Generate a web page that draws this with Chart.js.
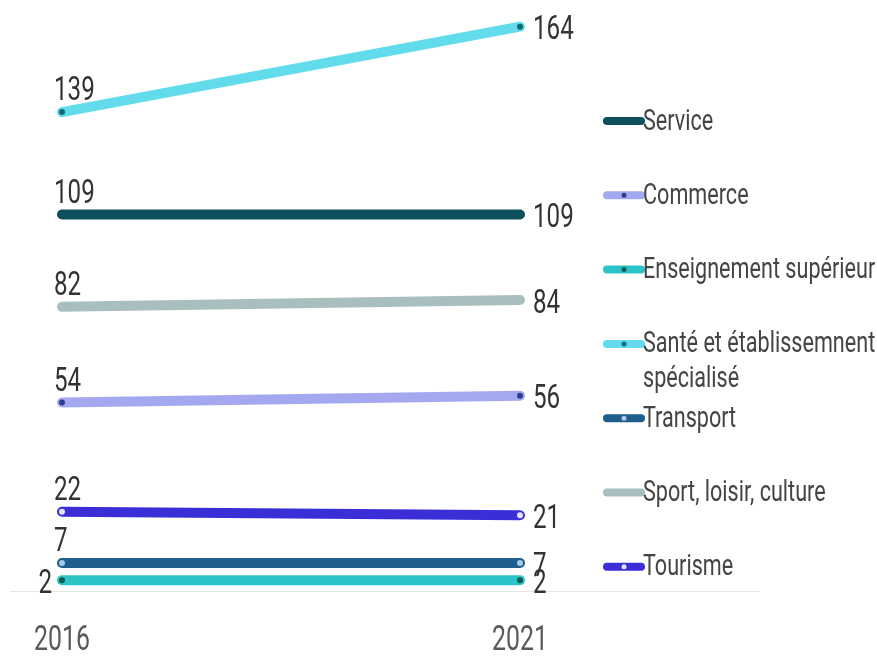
<!DOCTYPE html>
<html>
<head>
<meta charset="utf-8">
<script src="https://cdn.jsdelivr.net/npm/chart.js@4/dist/chart.umd.min.js"></script>
<style>
html,body{margin:0;padding:0;background:#fff;}
canvas{display:block;}
</style>
</head>
<body>
<canvas id="c" width="877" height="657"></canvas>
<script>
// ---- data ----
const years = ['2016', '2021'];
const seriesNames = ['Service', 'Commerce', 'Enseignement supérieur', 'Santé et établissemnent spécialisé', 'Transport', 'Sport, loisir, culture', 'Tourisme'];
const service = [109, 109];
const commerce = [54, 56];
const enseignement = [2, 2];
const sante = [139, 164];
const transport = [7, 7];
const sport = [82, 84];
const tourisme = [22, 21];

const lineColors = ['#0d4f5b', '#a4a9ef', '#2cc3c6', '#62dcec', '#1e5d8c', '#a9bebe', '#3a2ed6'];
const pointColors = ['#0d4f5b', '#2c3e91', '#0e5c55', '#106a72', '#a9c7e6', '#a9bebe', '#e2e2ff'];
const seriesValues = [service, commerce, enseignement, sante, transport, sport, tourisme];

const FONT = 'Roboto, "DejaVu Sans", sans-serif';

function drawText(ctx, text, x, y, align, baseline, sx) {
  ctx.save();
  ctx.translate(x, y);
  ctx.scale(sx, 1);
  ctx.textAlign = align;
  ctx.textBaseline = baseline;
  ctx.fillText(text, 0, 0);
  ctx.restore();
}

const datasets = seriesNames.map((name, i) => ({
  label: name,
  data: seriesValues[i],
  borderColor: lineColors[i],
  backgroundColor: lineColors[i],
  borderWidth: 10,
  borderCapStyle: 'round',
  pointRadius: 3,
  pointHoverRadius: 3,
  pointBorderWidth: 0,
  pointBackgroundColor: pointColors[i],
  clip: false,
  tension: 0
}));

const baselinePlugin = {
  id: 'baseline',
  beforeDatasetsDraw(chart) {
    const ctx = chart.ctx;
    const y = Math.round(chart.scales.y.getPixelForValue(0) + 4);
    ctx.save();
    ctx.strokeStyle = '#e6e6e6';
    ctx.lineWidth = 1;
    ctx.beginPath();
    ctx.moveTo(10, y + 0.5);
    ctx.lineTo(760, y + 0.5);
    ctx.stroke();
    ctx.restore();
  }
};

const xTicksPlugin = {
  id: 'xTicks',
  afterDraw(chart) {
    const ctx = chart.ctx;
    const xs = chart.scales.x;
    ctx.save();
    ctx.font = '35px ' + FONT;
    ctx.fillStyle = '#5a5a5a';
    xs.getLabels().forEach((lab, i) => {
      drawText(ctx, lab, xs.getPixelForTick(i), 641, 'center', 'middle', 0.71);
    });
    ctx.restore();
  }
};

const labelsPlugin = {
  id: 'valueLabels',
  afterDatasetsDraw(chart) {
    const ctx = chart.ctx;
    ctx.save();
    ctx.font = '34px ' + FONT;
    ctx.fillStyle = '#333';
    const firstVals = chart.data.datasets.map(d => d.data[0]);
    const minFirst = Math.min(...firstVals);
    chart.data.datasets.forEach((ds, di) => {
      const meta = chart.getDatasetMeta(di);
      meta.data.forEach((pt, idx) => {
        const v = String(ds.data[idx]);
        if (idx === 0) {
          if (ds.data[idx] === minFirst) {
            drawText(ctx, v, pt.x - 10, pt.y + 4, 'right', 'middle', 0.71);
          } else {
            drawText(ctx, v, pt.x - 8, pt.y - 12, 'left', 'alphabetic', 0.71);
          }
        } else {
          drawText(ctx, v, pt.x + 13, pt.y + 4, 'left', 'middle', 0.71);
        }
      });
    });
    ctx.restore();
  }
};

const legendPlugin = {
  id: 'sideLegend',
  afterDraw(chart) {
    const ctx = chart.ctx;
    ctx.save();
    ctx.font = '30px ' + FONT;
    const LSX = 0.72;
    const x0 = 607, x1 = 641, tx = 643, maxW = 236;
    const startY = 121, step = 74.3, lineH = 35;
    chart.data.datasets.forEach((ds, i) => {
      const y = startY + i * step;
      ctx.strokeStyle = ds.borderColor;
      ctx.lineWidth = 8;
      ctx.lineCap = 'round';
      ctx.beginPath();
      ctx.moveTo(x0, y);
      ctx.lineTo(x1, y);
      ctx.stroke();
      ctx.fillStyle = ds.pointBackgroundColor;
      ctx.beginPath();
      ctx.arc((x0 + x1) / 2, y, 2.5, 0, Math.PI * 2);
      ctx.fill();
      const words = ds.label.split(' ');
      const lines = [];
      let cur = '';
      words.forEach(w => {
        const t = cur ? cur + ' ' + w : w;
        if (ctx.measureText(t).width * LSX > maxW && cur) { lines.push(cur); cur = w; }
        else cur = t;
      });
      if (cur) lines.push(cur);
      ctx.fillStyle = '#444';
      lines.forEach((ln, k) => drawText(ctx, ln, tx, y + k * lineH + 1, 'left', 'middle', LSX));
    });
    ctx.restore();
  }
};

new Chart(document.getElementById('c'), {
  type: 'line',
  data: { labels: years, datasets: datasets },
  options: {
    responsive: false,
    animation: false,
    events: [],
    layout: { padding: { left: 62, right: 357, top: 13, bottom: 70 } },
    plugins: { legend: { display: false }, tooltip: { enabled: false } },
    scales: {
      x: { display: false, offset: false },
      y: { display: false, min: 0, max: 168 }
    }
  },
  plugins: [baselinePlugin, labelsPlugin, legendPlugin, xTicksPlugin]
});
</script>
</body>
</html>
